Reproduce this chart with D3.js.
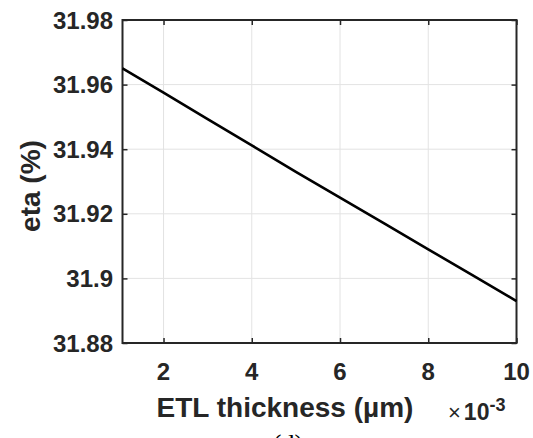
<!DOCTYPE html>
<html>
<head>
<meta charset="utf-8">
<script src="https://cdn.jsdelivr.net/npm/d3@7"></script>
<style>
  body { margin: 0; background: #fff; }
  svg { display: block; }
  text { font-family: "Liberation Sans", Arial, sans-serif; font-weight: bold; fill: #262626; }
</style>
</head>
<body>
<div id="chart"></div>
<script>
// Dados (espessura em 1e-3 µm, eficiência em %)
const thickness = [1.07, 2, 3, 4, 5, 6, 7, 8, 9, 10];
const eta = [31.965, 31.9575, 31.9493, 31.9412, 31.933, 31.925, 31.917, 31.909, 31.901, 31.893];
const xTicks = [2, 4, 6, 8, 10];
const yTicks = [31.88, 31.9, 31.92, 31.94, 31.96, 31.98];

const width = 533, height = 438;
const margin = { left: 122.5, right: 533 - 516.5, top: 20, bottom: 438 - 343 };

const svg = d3.select("#chart").append("svg")
    .attr("width", width)
    .attr("height", height);

const x = d3.scaleLinear()
    .domain([thickness[0], 10])
    .range([margin.left, width - margin.right]);

const y = d3.scaleLinear()
    .domain([31.88, 31.98])
    .range([height - margin.bottom, margin.top]);

// grade
svg.append("g").selectAll("line.gx")
    .data(xTicks)
    .enter().append("line")
    .attr("x1", d => x(d)).attr("x2", d => x(d))
    .attr("y1", y.range()[1]).attr("y2", y.range()[0])
    .attr("stroke", "#e3e3e3").attr("stroke-width", 1);

svg.append("g").selectAll("line.gy")
    .data(yTicks)
    .enter().append("line")
    .attr("y1", d => y(d)).attr("y2", d => y(d))
    .attr("x1", x.range()[0]).attr("x2", x.range()[1])
    .attr("stroke", "#e3e3e3").attr("stroke-width", 1);

// eixos (ticks para dentro, estilo MATLAB)
const tickLen = 5;
const fmtY = d => d3.format(".2f")(d).replace(/0$/, "");

const xAxisB = d3.axisBottom(x).tickValues(xTicks).tickSize(-tickLen).tickFormat("").tickSizeOuter(0);
const xAxisT = d3.axisTop(x).tickValues(xTicks).tickSize(-tickLen).tickFormat("").tickSizeOuter(0);
const yAxisL = d3.axisLeft(y).tickValues(yTicks).tickSize(-tickLen).tickFormat("").tickSizeOuter(0);
const yAxisR = d3.axisRight(y).tickValues(yTicks).tickSize(-tickLen).tickFormat("").tickSizeOuter(0);

svg.append("g").attr("transform", `translate(0,${y.range()[0]})`).call(xAxisB);
svg.append("g").attr("transform", `translate(0,${y.range()[1]})`).call(xAxisT);
svg.append("g").attr("transform", `translate(${x.range()[0]},0)`).call(yAxisL);
svg.append("g").attr("transform", `translate(${x.range()[1]},0)`).call(yAxisR);

svg.selectAll(".domain").remove();
svg.selectAll(".tick line").attr("stroke", "#262626").attr("stroke-width", 1.5);

// caixa
svg.append("rect")
    .attr("x", x.range()[0]).attr("y", y.range()[1])
    .attr("width", x.range()[1] - x.range()[0])
    .attr("height", y.range()[0] - y.range()[1])
    .attr("fill", "none")
    .attr("stroke", "#262626")
    .attr("stroke-width", 2);

// linha de dados
const line = d3.line().x((d, i) => x(thickness[i])).y(d => y(d));
svg.append("path")
    .datum(eta)
    .attr("d", line)
    .attr("fill", "none")
    .attr("stroke", "#000")
    .attr("stroke-width", 2.6);

// rótulos dos ticks
svg.append("g").selectAll("text")
    .data(xTicks)
    .enter().append("text")
    .attr("x", d => x(d))
    .attr("y", 380)
    .attr("text-anchor", "middle")
    .style("font-size", "24px")
    .text(d => d);

svg.append("g").selectAll("text")
    .data(yTicks)
    .enter().append("text")
    .attr("x", 113)
    .attr("y", d => y(d))
    .attr("dy", "0.36em")
    .attr("text-anchor", "end")
    .style("font-size", "24px")
    .text(fmtY);

// títulos dos eixos
svg.append("text")
    .attr("x", 285)
    .attr("y", 417)
    .attr("text-anchor", "middle")
    .style("font-size", "28px")
    .text("ETL thickness (µm)");

svg.append("text")
    .attr("transform", "translate(40,186) rotate(-90)")
    .attr("text-anchor", "middle")
    .style("font-size", "28px")
    .text("eta (%)");

// multiplicador do eixo x
const mult = svg.append("text")
    .attr("x", 448)
    .attr("y", 419.5)
    .style("font-size", "23px");
mult.append("tspan").style("font-weight", "normal").style("font-size", "22px").text("\u00d7");
mult.append("tspan").attr("dx", 3).text("10");
mult.append("tspan").attr("dy", -9).style("font-size", "18px").text("-3");

// legenda do painel (cortada na borda)
svg.append("text")
    .attr("x", 288)
    .attr("y", 452)
    .attr("text-anchor", "middle")
    .style("font-family", "'Liberation Serif', 'Times New Roman', serif")
    .style("font-weight", "normal")
    .style("font-size", "26px")
    .style("fill", "#000")
    .text("(d)");
</script>
</body>
</html>
